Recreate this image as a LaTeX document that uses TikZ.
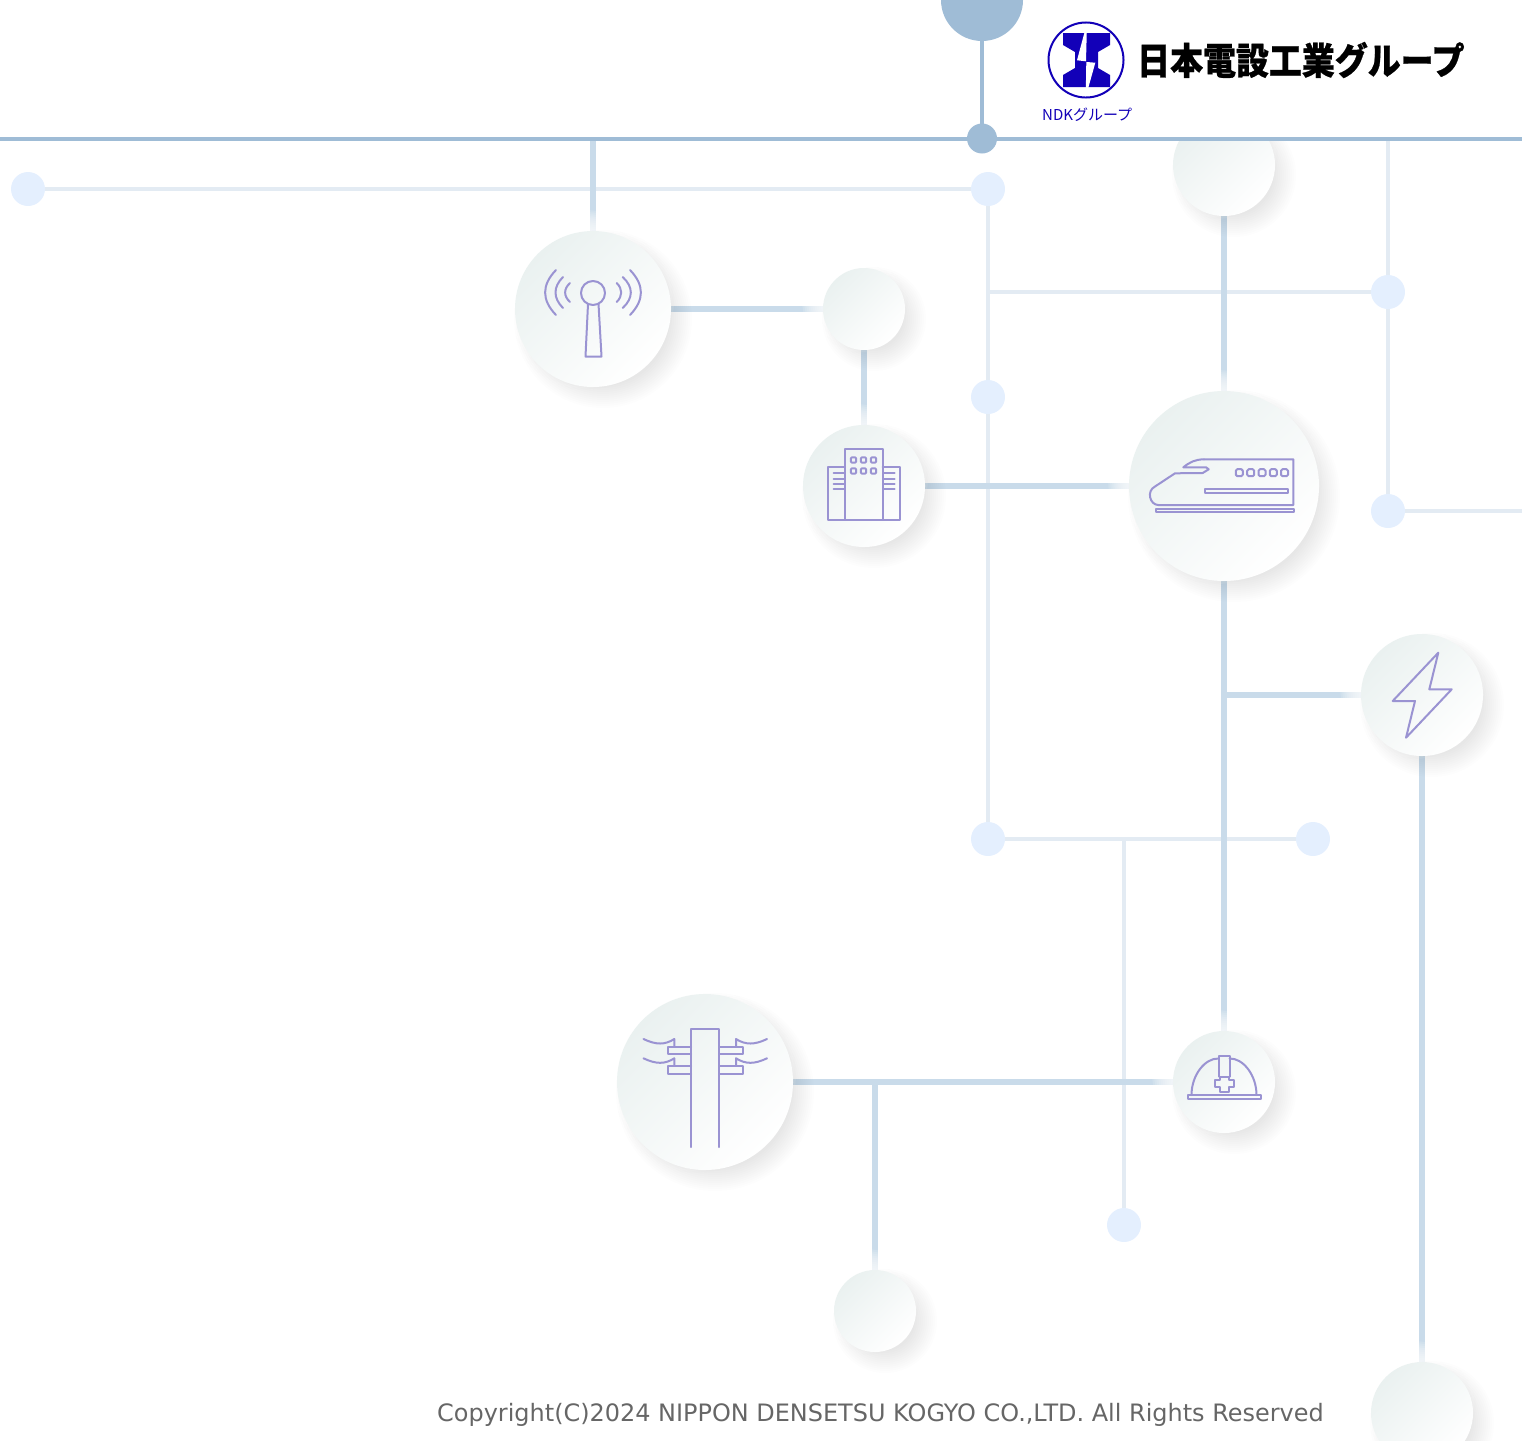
\documentclass[tikz,border=0pt]{standalone}
\usepackage{fontspec}
\setmainfont{DejaVu Sans}
\newfontfamily\cjkfont{Noto Sans CJK JP}
\newfontfamily\cjkheavy[BoldFeatures={FakeBold=.7,FakeStretch=.89}]{Noto Sans CJK JP}
\usetikzlibrary{calc}
\pgfdeclarelayer{wires}\pgfdeclarelayer{soft}\pgfdeclarelayer{head}
\pgfsetlayers{wires,soft,main,head}
\definecolor{bar}{HTML}{9FBCD6}
\definecolor{midline}{HTML}{C9DBEA}
\definecolor{thinline}{HTML}{E3EBF3}
\definecolor{dotc}{HTML}{E4EFFE}
\definecolor{ico}{HTML}{9A93D2}
\definecolor{ndk}{HTML}{1200B8}
\definecolor{discA}{HTML}{EAF1F0}
\definecolor{discB}{HTML}{FFFFFF}
\tikzset{
 midw/.style={draw=midline,line width=6.2pt},
 thinw/.style={draw=thinline,line width=4pt},
 barw/.style={draw=bar,line width=3.8pt},
 lightdot/.style={circle,fill=dotc,minimum size=34pt,inner sep=0pt},
 icon/.style={draw=ico,line width=2pt,line join=round,line cap=round},
 disc/.style={circle,inner sep=0pt,shade,left color=discA,right color=discB,shading angle=45,draw=none},
}
% soft disc: name, x, y, radius
\newcommand{\softdisc}[4]{%
 \node[disc,minimum size=#4*2pt] (#1) at (#2,#3) {};
 \begin{pgfonlayer}{soft}
  \foreach \k in {1,...,12}{%
   \fill[white,opacity=.14] ({#2-9},{#3-9}) circle ({#4+14-2*\k});
  }
  \foreach \k in {1,...,12}{%
   \fill[black,opacity=.009] ({#2+10},{#3+10}) circle ({#4+13-2*\k});
  }
 \end{pgfonlayer}%
}
\begin{document}
\begin{tikzpicture}[x=1pt,y=-1pt]
\useasboundingbox (0,0) rectangle (1522,1440);
\clip (0,0) rectangle (1522,1440);

\softdisc{antenna}{593}{309}{78}
\softdisc{hub}{864}{309}{41}
\softdisc{building}{864}{486}{61}
\softdisc{train}{1224}{486}{95}
\softdisc{topdisc}{1224}{165}{51}
\softdisc{bolt}{1422}{695}{61}
\softdisc{pole}{705}{1082}{88}
\softdisc{helmet}{1224}{1082}{51}
\softdisc{lowdisc}{875}{1311}{41}
\softdisc{cornerdisc}{1422}{1413}{51}

\node[lightdot] (d1) at (28,189) {};
\node[lightdot] (d2) at (988,189) {};
\node[lightdot] (d3) at (988,397) {};
\node[lightdot] (d4) at (988,839) {};
\node[lightdot] (d5) at (1313,839) {};
\node[lightdot] (d6) at (1124,1225) {};
\node[lightdot] (d7) at (1388,292) {};
\node[lightdot] (d8) at (1388,511) {};
\coordinate (barL) at (0,138.7);
\coordinate (barR) at (1522,138.7);
\coordinate (e1) at (1522,511);
\coordinate (t1) at (1388,139);
\coordinate (t2) at (593,139);
\coordinate (j1) at (988,292);
\coordinate (j2) at (1124,839);
\coordinate (j3) at (1224,695);
\coordinate (j4) at (875,1082);

\begin{pgfonlayer}{wires}
 \draw[thinw] (d1.center) -- (d2.center);
 \draw[thinw] (d2.center) -- (d3.center);
 \draw[thinw] (d3.center) -- (d4.center);
 \draw[thinw] (d4.center) -- (d5.center);
 \draw[thinw] (j2) -- (d6.center);
 \draw[thinw] (j1) -- (d7.center);
 \draw[thinw] (t1) -- (d7.center);
 \draw[thinw] (d7.center) -- (d8.center);
 \draw[thinw] (d8.center) -- (e1);
 \draw[midw] (t2) -- (antenna.center);
 \draw[midw] (antenna.center) -- (hub.center);
 \draw[midw] (hub.center) -- (building.center);
 \draw[midw] (building.center) -- (train.center);
 \draw[midw] (topdisc.center) -- (train.center);
 \draw[midw] (train.center) -- (helmet.center);
 \draw[midw] (j3) -- (bolt.center);
 \draw[midw] (bolt.center) -- (cornerdisc.center);
 \draw[midw] (pole.center) -- (helmet.center);
 \draw[midw] (j4) -- (lowdisc.center);
\end{pgfonlayer}

% antenna icon
\draw[icon] (593,293) circle (12);
\draw[icon] (588,304) -- (585.5,356.5) -- (601.5,356.5) -- (598.5,304);
\draw[icon] (556,270) .. controls (541.5,285) and (541.5,300) .. (556,315);
\draw[icon] (563,277) .. controls (553,287) and (553,298) .. (563,308);
\draw[icon] (570,283) .. controls (563.5,289) and (563.5,296) .. (570,302);
\draw[icon] (630,270) .. controls (644.5,285) and (644.5,300) .. (630,315);
\draw[icon] (622.7,277) .. controls (633.5,287) and (633.5,298) .. (622.7,308);
\draw[icon] (616.7,283) .. controls (622.7,289) and (622.7,296) .. (616.7,302);

% building icon
\draw[icon] (845,449) rectangle (882.7,519.5);
\draw[icon] (845,466.7) -- (827.7,466.7) -- (827.7,519.5) -- (845,519.5);
\draw[icon] (882.7,466.7) -- (899.5,466.7) -- (899.5,519.5) -- (882.7,519.5);
\foreach \wx in {853.5,863.5,873.5}\foreach \wy in {460,471}
 \draw[icon,rounded corners=1pt] (\wx-2.6,\wy-2.6) rectangle (\wx+2.6,\wy+2.6);
\foreach \wy in {473.3,479,484.3,489.3}{
 \draw[icon] (833.5,\wy) -- (844,\wy);
 \draw[icon] (884,\wy) -- (894.5,\wy);
}

% train icon
\draw[icon] (1204,459.3) -- (1293.3,459.3) -- (1293.3,505) -- (1158.3,505)
 .. controls (1150,505) and (1146,491) .. (1155,486.5) -- (1175,473.3) -- (1202.7,473);
\draw[icon] (1204,459.3) .. controls (1195,459.5) and (1190,462) .. (1183.3,467.3) -- (1206,467.3) -- (1208.7,469.3) -- (1202.7,473);
\foreach \wx in {1239.3,1250.7,1262,1273.3,1284.5}
 \draw[icon,rounded corners=1.5pt] (\wx-3.5,469.2) rectangle (\wx+3.5,476.2);
\draw[icon] (1204.5,488.5) rectangle (1288.3,493.3);
\draw[icon] (1156,508.7) rectangle (1294,512.3);

% bolt icon
\draw[icon] (1438.3,652.7) -- (1429.3,689.3) -- (1451.7,689.3) -- (1406,737.7) -- (1415,701) -- (1392.7,701) -- cycle;

% pole icon
\draw[icon] (691,1147) -- (691,1028.5) -- (719.3,1028.5) -- (719.3,1147);
\draw[icon] (691,1046.7) -- (667.7,1046.7) -- (667.7,1054.3) -- (691,1054.3);
\draw[icon] (691,1065.7) -- (667.7,1065.7) -- (667.7,1073.7) -- (691,1073.7);
\draw[icon] (719.3,1046.7) -- (742.7,1046.7) -- (742.7,1054.3) -- (719.3,1054.3);
\draw[icon] (719.3,1065.7) -- (742.7,1065.7) -- (742.7,1073.7) -- (719.3,1073.7);
\draw[icon] (643.5,1039) .. controls (656,1045) and (665,1045) .. (674.3,1039) -- (674.3,1046.7);
\draw[icon] (643.5,1058.3) .. controls (656,1064.3) and (665,1064.3) .. (674.3,1058.3) -- (674.3,1065.7);
\draw[icon] (767,1039) .. controls (754.5,1045) and (745.5,1045) .. (736,1039) -- (736,1046.7);
\draw[icon] (767,1058.3) .. controls (754.5,1064.3) and (745.5,1064.3) .. (736,1058.3) -- (736,1065.7);

% helmet icon
\draw[icon] (1188,1095) rectangle (1260.5,1099.3);
\draw[icon] (1191.5,1095) .. controls (1191.5,1075) and (1205,1058) .. (1218.5,1058.5);
\draw[icon] (1229.5,1058.5) .. controls (1243,1058) and (1256.5,1075) .. (1256.5,1095);
\draw[icon] (1218.5,1076.5) -- (1218.5,1055.7) -- (1229.5,1055.7) -- (1229.5,1076.5);
\draw[icon] (1219.5,1076.5) -- (1228.5,1076.5) -- (1228.5,1080) -- (1233.5,1080) -- (1233.5,1087) -- (1228.5,1087) -- (1228.5,1092) -- (1219.5,1092) -- (1219.5,1087) -- (1214.5,1087) -- (1214.5,1080) -- (1219.5,1080) -- cycle;

% copyright
\node[anchor=base west,inner sep=0pt,text=black!60,font=\fontsize{23.95}{28}\selectfont] (copy) at (437,1421) {Copyright(C)2024 NIPPON DENSETSU KOGYO CO.,LTD. All Rights Reserved};

\begin{pgfonlayer}{head}
 \fill[white] (0,0) rectangle (1522,137);
 \fill[bar] (982,0) circle (41);
 \node[circle,fill=bar,minimum size=30pt,inner sep=0pt] (joint) at (982,138.5) {};
 \coordinate (topc) at (982,0);
 \draw[barw] (topc) -- (joint.center);
 \draw[barw] (barL) -- (barR);
 % logo
 \draw[ndk,line width=2pt] (1086,60) circle (37.5);
 \fill[ndk] (1063,33) -- (1110,33) -- (1110,45) -- (1098,52) -- (1098,68) -- (1110,75) -- (1110,87) -- (1063,87) -- (1063,75) -- (1075,68) -- (1075,52) -- (1063,45) -- cycle;
 \fill[white] (1087,23) -- (1077,60.3) -- (1086,61.3) -- cycle;
 \fill[white] (1086.3,62) -- (1095.3,62.7) -- (1085.7,97) -- cycle;
 \node[anchor=west,inner sep=0pt,font=\cjkheavy\bfseries\fontsize{37}{42}\selectfont] (logotext) at (1137,60) {日本電設工業グループ};
 \node[anchor=west,inner sep=0pt,text=ndk,font=\cjkfont\fontsize{15}{17}\selectfont] (logosub) at (1042,114.5) {NDKグループ};
\end{pgfonlayer}
\end{tikzpicture}
\end{document}
